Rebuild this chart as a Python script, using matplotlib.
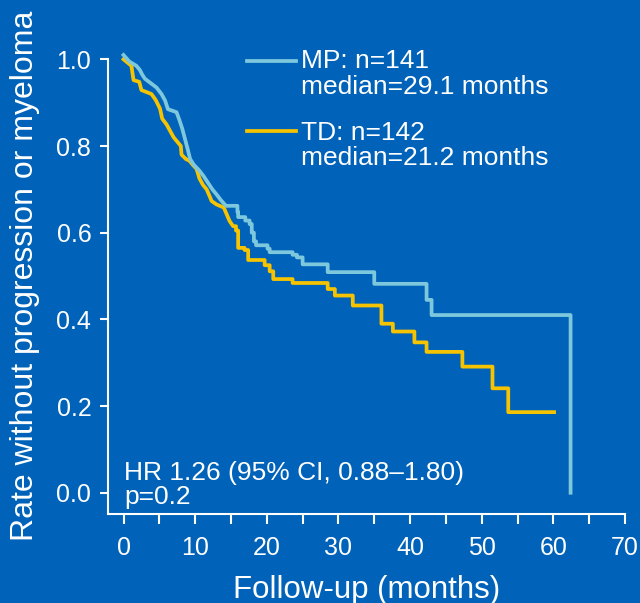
import matplotlib
matplotlib.use("Agg")
import matplotlib.pyplot as plt

plt.rcParams['font.family'] = ['Liberation Sans', 'DejaVu Sans']

# Kaplan-Meier style curves (months, rate)
mp_t = [0, 0.8, 1.8, 2.3, 2.6, 3.0, 3.8, 4.6, 5.3, 5.8, 6.2, 7.4, 7.8, 8.2, 8.6,
        9.0, 9.3, 9.8, 10.6, 11.2, 11.8, 12.4, 13.0, 13.6, 14.3, 15.9, 16.0,
        17.0, 17.6, 17.9, 18.2, 18.5, 20.1, 20.4, 23.6, 24.2, 25.0, 28.5, 35.0,
        42.3, 43.0, 62.4]
mp_s = [1.01, 0.995, 0.985, 0.975, 0.965, 0.955, 0.945, 0.935, 0.92, 0.905, 0.885,
        0.878, 0.86, 0.84, 0.815, 0.79, 0.77, 0.757, 0.743, 0.73, 0.715, 0.70,
        0.688, 0.675, 0.662, 0.648, 0.636, 0.628, 0.62, 0.60, 0.58, 0.571, 0.563,
        0.555, 0.549, 0.543, 0.527, 0.509, 0.482, 0.445, 0.41, 0.0]

td_t = [0, 1.1, 1.4, 2.2, 2.5, 3.9, 4.5, 5.1, 5.4, 6.0, 6.5, 7.0, 7.5, 8.0, 8.1,
        8.7, 9.2, 9.7, 10.2, 10.6, 11.1, 11.6, 12.0, 12.3, 13.0, 14.0, 14.8,
        15.3, 15.7, 16.0, 16.9, 17.4, 19.7, 20.4, 20.9, 23.6, 28.5, 29.5, 32.0,
        36.0, 37.6, 40.6, 42.3, 47.3, 51.5, 53.7, 60.1]
td_s = [1.0, 0.985, 0.952, 0.948, 0.929, 0.92, 0.906, 0.886, 0.863, 0.85, 0.835,
        0.82, 0.81, 0.80, 0.78, 0.77, 0.766, 0.756, 0.747, 0.725, 0.71, 0.70,
        0.685, 0.673, 0.665, 0.658, 0.627, 0.615, 0.605, 0.565, 0.56, 0.537,
        0.525, 0.511, 0.493, 0.484, 0.47, 0.455, 0.432, 0.39, 0.372, 0.347,
        0.325, 0.291, 0.241, 0.186, 0.186]

x_ticks = [0, 10, 20, 30, 40, 50, 60, 70]
y_ticks = [0.0, 0.2, 0.4, 0.6, 0.8, 1.0]

bg = '#0062B8'
mp_col = '#7DC8DD'
td_col = '#F5C300'


def km_path(t, s, smooth_until=15.5):
    # dense early drops look like a slanted line in the original, later ones are clear steps
    xs, ys = [t[0]], [s[0]]
    for i in range(1, len(t)):
        if t[i] > smooth_until:
            xs.append(t[i])
            ys.append(s[i - 1])
        xs.append(t[i])
        ys.append(s[i])
    return xs, ys


fig = plt.figure(figsize=(6.4, 6.03), dpi=100, facecolor=bg)
ax = fig.add_axes([0.1688, 0.1476, 0.8078, 0.7756])
ax.set_facecolor(bg)

ax.plot(*km_path(td_t, td_s), color=td_col, lw=2.7)
ax.plot(*km_path(mp_t, mp_s), color=mp_col, lw=2.7)

ax.set_xlim(-2.16, 70)
ax.set_ylim(-0.049, 1.03)

for s in ['top', 'right']:
    ax.spines[s].set_visible(False)
for s in ['left', 'bottom']:
    ax.spines[s].set_color('white')
    ax.spines[s].set_linewidth(1.5)
ax.spines['left'].set_bounds(-0.049, 1.0)

ax.set_xticks(x_ticks)
ax.set_xticks(range(5, 70, 10), minor=True)
ax.set_yticks(y_ticks)
ax.set_yticklabels(['%.1f' % v for v in y_ticks])
ax.tick_params(axis='x', which='both', colors='white', length=7, width=1.5,
               labelsize=18, pad=9)
ax.tick_params(axis='y', colors='white', length=6, width=1.5, labelsize=18, pad=6)

ax.set_xlabel('Follow-up (months)', color='white', fontsize=22.5)
ax.xaxis.set_label_coords(0.5, -0.18)
ax.xaxis.label.set_va('baseline')
ax.set_ylabel('Rate without progression or myeloma', color='white', fontsize=23)
ax.yaxis.set_label_coords(-0.1315, 0.509)

# legend drawn by hand so the line sits beside the first text row
ax.plot([17.2, 24.08], [0.997, 0.997], color=mp_col, lw=2.7)
ax.plot([17.2, 24.08], [0.835, 0.835], color=td_col, lw=2.7)
leg_kw = dict(color='white', fontsize=19, va='baseline', ha='left')
ax.text(24.78, 0.979, 'MP: n=141', **leg_kw)
ax.text(24.78, 0.919, 'median=29.1 months', **leg_kw)
ax.text(24.78, 0.814, 'TD: n=142', **leg_kw)
ax.text(24.78, 0.756, 'median=21.2 months', **leg_kw)

ax.text(0.07, 0.030, 'HR 1.26 (95% CI, 0.88\u20131.80)', **leg_kw)
ax.text(0.07, -0.026, 'p=0.2', **leg_kw)

fig.savefig('out.png', dpi=100, facecolor=bg)
